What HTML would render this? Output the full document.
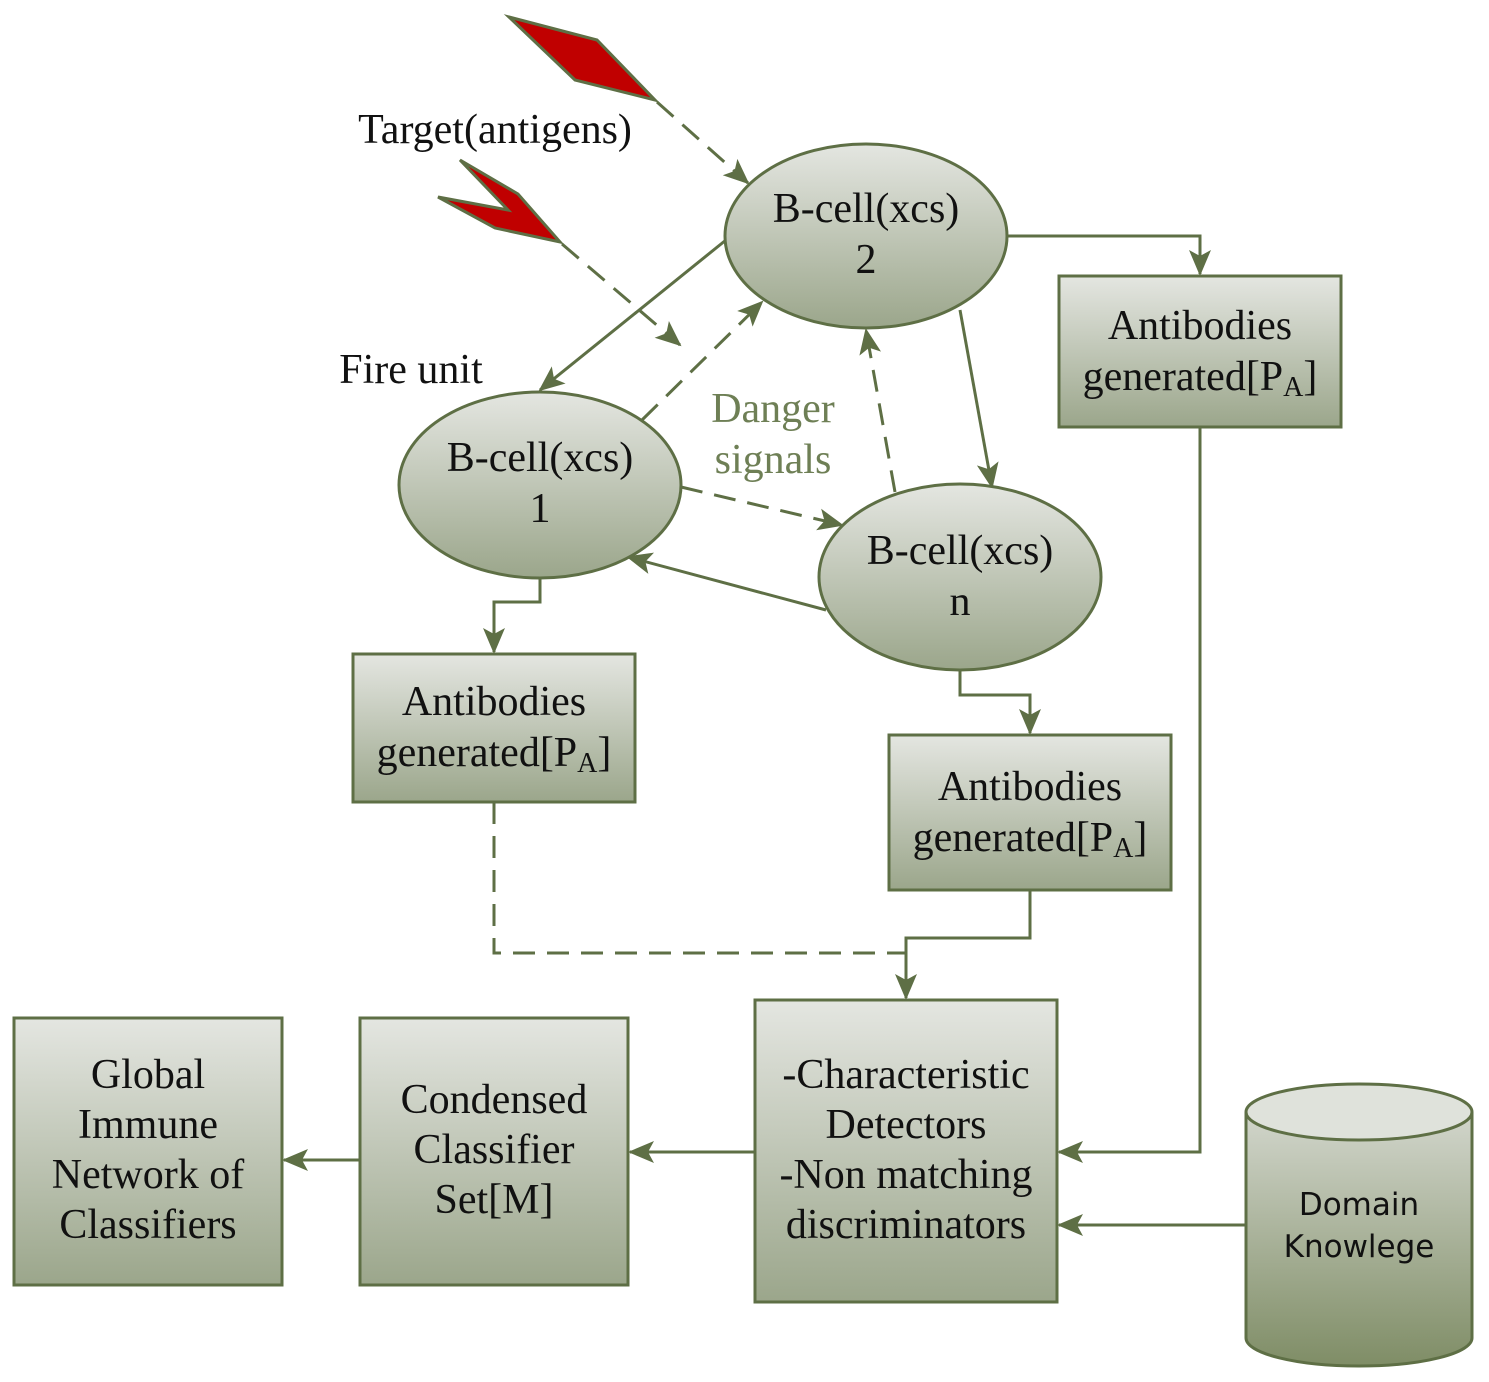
<!DOCTYPE html>
<html><head><meta charset="utf-8"><style>html,body{margin:0;padding:0;background:#fff}svg{display:block}</style></head><body>
<svg width="1489" height="1382" viewBox="0 0 1489 1382" xmlns="http://www.w3.org/2000/svg">
<defs>
<linearGradient id="g" x1="0" y1="0" x2="0" y2="1"><stop offset="0" stop-color="#e4e6e1"/><stop offset="1" stop-color="#9ba68b"/></linearGradient>
<linearGradient id="gc" x1="0" y1="0" x2="0" y2="1"><stop offset="0" stop-color="#d2d6cc"/><stop offset="1" stop-color="#7f8d66"/></linearGradient>
<marker id="b" markerWidth="26" markerHeight="26" refX="24" refY="13" orient="auto" markerUnits="userSpaceOnUse" viewBox="0 0 26 26"><path d="M0,2 L26,13 L0,24 L6,13 z" fill="#5e6f45"/></marker>
</defs>
<g stroke="#5e6f45" stroke-width="3" fill="none">
<polygon points="509,17 597,40 655,100 575,80" fill="#c00000"/>
<polygon points="460,160 518,194 560,242 495,228 438,197 508,210" fill="#c00000"/>
<path d="M1008,236 H1200 V274" marker-end="url(#b)"/>
<path d="M726,240 L540,390" marker-end="url(#b)"/>
<path d="M642,420 L762,302" stroke-dasharray="22,12" marker-end="url(#b)"/>
<path d="M562,244 L680,345" stroke-dasharray="22,12" marker-end="url(#b)"/>
<path d="M657,102 L748,183" stroke-dasharray="22,12" marker-end="url(#b)"/>
<path d="M960,310 L992,487" marker-end="url(#b)"/>
<path d="M895,492 L866,330" stroke-dasharray="22,12" marker-end="url(#b)"/>
<path d="M681,487 L842,525" stroke-dasharray="22,12" marker-end="url(#b)"/>
<path d="M826,610 L628,557" marker-end="url(#b)"/>
<path d="M540,578 V602 H494 V652" marker-end="url(#b)"/>
<path d="M960,670 V695 H1030 V733" marker-end="url(#b)"/>
<path d="M494,802 V953 H906" stroke-dasharray="22,12"/>
<path d="M1030,890 V938 H906 V998" marker-end="url(#b)"/>
<path d="M1200,427 V1152 H1059" marker-end="url(#b)"/>
<path d="M1246,1225 H1059" marker-end="url(#b)"/>
<path d="M755,1152 H630" marker-end="url(#b)"/>
<path d="M360,1160 H284" marker-end="url(#b)"/>
<ellipse cx="866" cy="236" rx="141" ry="92" fill="url(#g)"/>
<ellipse cx="540" cy="485" rx="141" ry="93" fill="url(#g)"/>
<ellipse cx="960" cy="577" rx="141" ry="93" fill="url(#g)"/>
<rect x="1059" y="276" width="282" height="151" fill="url(#g)"/>
<rect x="353" y="654" width="282" height="148" fill="url(#g)"/>
<rect x="889" y="735" width="282" height="155" fill="url(#g)"/>
<rect x="755" y="1000" width="302" height="302" fill="url(#g)"/>
<rect x="360" y="1018" width="268" height="267" fill="url(#g)"/>
<rect x="14" y="1018" width="268" height="267" fill="url(#g)"/>
<path d="M1246,1112 V1338 A113,28 0 0 0 1472,1338 V1112" fill="url(#gc)"/>
<ellipse cx="1359" cy="1112" rx="113" ry="28" fill="#dfe2db"/>
</g>
<g font-family="Liberation Serif, serif" font-size="42" fill="#111" text-anchor="middle">
<text x="495" y="143">Target(antigens)</text>
<text x="411" y="383">Fire unit</text>
<text x="866" y="222">B-cell(xcs)</text><text x="866" y="273">2</text>
<text x="540" y="471">B-cell(xcs)</text><text x="540" y="522">1</text>
<text x="960" y="564">B-cell(xcs)</text><text x="960" y="615">n</text>
<text x="773" y="422" fill="#6e7f55">Danger</text><text x="773" y="473" fill="#6e7f55">signals</text>
<text x="1200" y="339">Antibodies</text><text x="1200" y="390">generated[P<tspan font-size="28" dy="6">A</tspan><tspan dy="-6">]</tspan></text>
<text x="494" y="715">Antibodies</text><text x="494" y="766">generated[P<tspan font-size="28" dy="6">A</tspan><tspan dy="-6">]</tspan></text>
<text x="1030" y="800">Antibodies</text><text x="1030" y="851">generated[P<tspan font-size="28" dy="6">A</tspan><tspan dy="-6">]</tspan></text>
<text x="906" y="1088">-Characteristic</text><text x="906" y="1138">Detectors</text><text x="906" y="1188">-Non matching</text><text x="906" y="1238">discriminators</text>
<text x="494" y="1113">Condensed</text><text x="494" y="1163">Classifier</text><text x="494" y="1213">Set[M]</text>
<text x="148" y="1088">Global</text><text x="148" y="1138">Immune</text><text x="148" y="1188">Network of</text><text x="148" y="1238">Classifiers</text>
</g>
<g font-family="DejaVu Sans, sans-serif" font-size="31" fill="#111" text-anchor="middle">
<text x="1359" y="1215">Domain</text><text x="1359" y="1257">Knowlege</text>
</g>
</svg>
</body></html>
